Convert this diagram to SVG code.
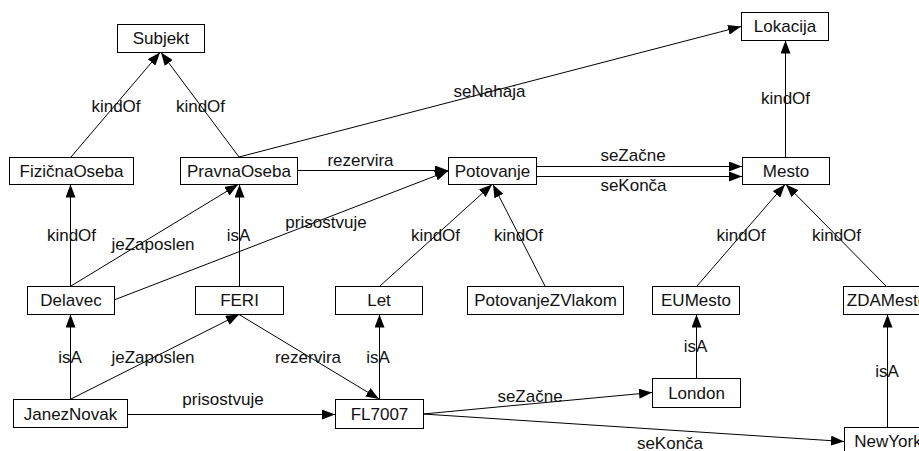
<svg xmlns="http://www.w3.org/2000/svg" width="919" height="451" viewBox="0 0 919 451">
  <style>
    .node rect { fill: #ffffff; stroke: #000000; stroke-width: 1; }
    .node text, .lbl { font-family: "Liberation Sans", Arial, sans-serif; font-size: 17px; fill: #111111; }
    .node text { text-anchor: middle; }
    .lbl { text-anchor: middle; }
    .edge { fill: none; stroke: #000000; stroke-width: 1; marker-end: url(#arrow); }
  </style>
  <defs>
    <marker id="arrow" markerUnits="userSpaceOnUse" markerWidth="14" markerHeight="10" refX="13" refY="5" orient="auto">
      <path d="M0,0 L13,5 L0,10 z" fill="#000000"/>
    </marker>
  </defs>
  <rect width="919" height="451" fill="#ffffff"/>

  <!-- connectors -->
  <g id="connectors">
    <line class="edge" x1="71" y1="157" x2="160" y2="52.5"/>
    <line class="edge" x1="239" y1="157" x2="161" y2="52.5"/>
    <line class="edge" x1="239" y1="157" x2="741" y2="26.5"/>
    <line class="edge" x1="297" y1="170.5" x2="448" y2="170.5"/>
    <line class="edge" x1="114" y1="300" x2="448" y2="171"/>
    <line class="edge" x1="536" y1="166.5" x2="742" y2="166.5"/>
    <line class="edge" x1="536" y1="176.5" x2="742" y2="176.5"/>
    <line class="edge" x1="785.5" y1="157" x2="785.5" y2="40.5"/>
    <line class="edge" x1="70.5" y1="286" x2="70.5" y2="184.5"/>
    <line class="edge" x1="71" y1="286" x2="238" y2="184.5"/>
    <line class="edge" x1="239.5" y1="286" x2="239.5" y2="184.5"/>
    <line class="edge" x1="70.5" y1="399" x2="70.5" y2="314.5"/>
    <line class="edge" x1="71" y1="399" x2="239" y2="314.5"/>
    <line class="edge" x1="239" y1="314.5" x2="379" y2="399"/>
    <line class="edge" x1="379.5" y1="399" x2="379.5" y2="314.5"/>
    <line class="edge" x1="380" y1="286" x2="492" y2="184.5"/>
    <line class="edge" x1="545" y1="286" x2="493" y2="184.5"/>
    <line class="edge" x1="697" y1="286" x2="785" y2="184.5"/>
    <line class="edge" x1="886" y1="286" x2="786" y2="184.5"/>
    <line class="edge" x1="696.5" y1="378" x2="696.5" y2="314.5"/>
    <line class="edge" x1="887.5" y1="427" x2="887.5" y2="314.5"/>
    <line class="edge" x1="127" y1="414.5" x2="335" y2="414.5"/>
    <line class="edge" x1="423" y1="414" x2="652" y2="392.5"/>
    <line class="edge" x1="423" y1="414" x2="844" y2="441.5"/>

    <text class="lbl" x="116" y="112">kindOf</text>
    <text class="lbl" x="200.5" y="112">kindOf</text>
    <text class="lbl" x="489.5" y="97">seNahaja</text>
    <text class="lbl" x="360.5" y="166">rezervira</text>
    <text class="lbl" x="633" y="161">seZačne</text>
    <text class="lbl" x="633.5" y="191">seKonča</text>
    <text class="lbl" x="785.5" y="104">kindOf</text>
    <text class="lbl" x="71.5" y="241">kindOf</text>
    <text class="lbl" x="153" y="250">jeZaposlen</text>
    <text class="lbl" x="238.5" y="241">isA</text>
    <text class="lbl" x="326" y="228">prisostvuje</text>
    <text class="lbl" x="435.5" y="241">kindOf</text>
    <text class="lbl" x="518.5" y="241">kindOf</text>
    <text class="lbl" x="741" y="241">kindOf</text>
    <text class="lbl" x="836.5" y="241">kindOf</text>
    <text class="lbl" x="70" y="363">isA</text>
    <text class="lbl" x="153" y="363">jeZaposlen</text>
    <text class="lbl" x="308" y="363">rezervira</text>
    <text class="lbl" x="378" y="363">isA</text>
    <text class="lbl" x="695.5" y="352">isA</text>
    <text class="lbl" x="887" y="377">isA</text>
    <text class="lbl" x="223" y="405">prisostvuje</text>
    <text class="lbl" x="530" y="402">seZačne</text>
    <text class="lbl" x="670" y="449">seKonča</text>
  </g>

  <!-- nodes -->
  <g id="Subjekt" class="node"><rect x="117.5" y="24.5" width="87" height="28"/><text x="161" y="44">Subjekt</text></g>
  <g id="Lokacija" class="node"><rect x="741.5" y="12.5" width="87" height="28"/><text x="785" y="32">Lokacija</text></g>
  <g id="FizicnaOseba" class="node"><rect x="9.5" y="157.5" width="124" height="27"/><text x="71.5" y="177">FizičnaOseba</text></g>
  <g id="PravnaOseba" class="node"><rect x="180.5" y="157.5" width="117" height="27"/><text x="239" y="177">PravnaOseba</text></g>
  <g id="Potovanje" class="node"><rect x="448.5" y="157.5" width="88" height="27"/><text x="492.5" y="177">Potovanje</text></g>
  <g id="Mesto" class="node"><rect x="742.5" y="157.5" width="87" height="27"/><text x="786" y="177">Mesto</text></g>
  <g id="Delavec" class="node"><rect x="27.5" y="286.5" width="87" height="28"/><text x="71" y="306">Delavec</text></g>
  <g id="FERI" class="node"><rect x="195.5" y="286.5" width="88" height="28"/><text x="239.5" y="306">FERI</text></g>
  <g id="Let" class="node"><rect x="335.5" y="286.5" width="87" height="28"/><text x="379" y="306">Let</text></g>
  <g id="PotovanjeZVlakom" class="node"><rect x="467.5" y="286.5" width="156" height="28"/><text x="545.5" y="306">PotovanjeZVlakom</text></g>
  <g id="EUMesto" class="node"><rect x="652.5" y="286.5" width="87" height="28"/><text x="696" y="306">EUMesto</text></g>
  <g id="ZDAMesto" class="node"><rect x="843.5" y="286.5" width="87" height="28"/><text x="887" y="306">ZDAMesto</text></g>
  <g id="JanezNovak" class="node"><rect x="13.5" y="399.5" width="114" height="28"/><text x="70.5" y="420">JanezNovak</text></g>
  <g id="FL7007" class="node"><rect x="335.5" y="399.5" width="88" height="29"/><text x="379.5" y="420">FL7007</text></g>
  <g id="London" class="node"><rect x="652.5" y="378.5" width="88" height="29"/><text x="696.5" y="399">London</text></g>
  <g id="NewYork" class="node"><rect x="844.5" y="427.5" width="87" height="28"/><text x="888" y="447">NewYork</text></g>
</svg>
